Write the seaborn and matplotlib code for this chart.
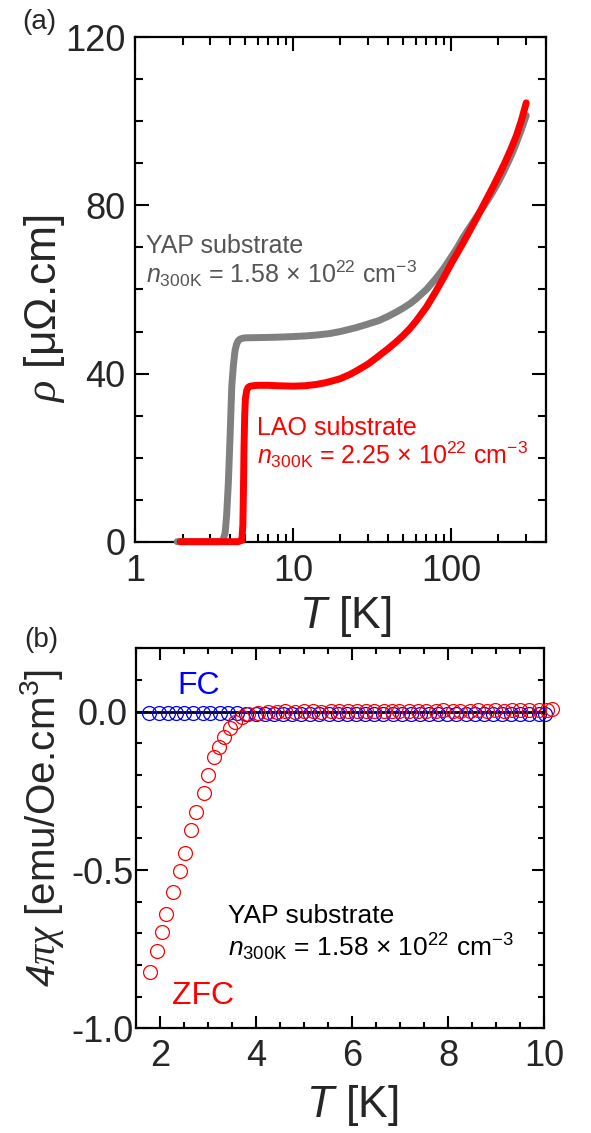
import matplotlib
matplotlib.use('Agg')
import matplotlib.pyplot as plt
import seaborn as sns
from matplotlib.ticker import FixedLocator, NullFormatter, MultipleLocator, FormatStrFormatter

# ---------------- data ----------------
# panel (a): resistivity vs temperature
yap_T = [1.85, 2.2, 2.6, 3.0, 3.4, 3.6, 3.72, 3.8, 3.9, 4.0, 4.1, 4.2, 4.3, 4.4, 4.5,
         4.63, 4.8, 5.0, 6, 7, 8, 10, 12, 14, 17, 20, 25, 30, 35, 40, 45, 50, 55, 60,
         70, 80, 90, 100, 110, 120, 130, 140, 150, 160, 170, 180, 190, 200, 215, 230,
         245, 260, 280, 300]
yap_rho = [0, 0, 0, 0, 0, 0.3, 2, 6, 14, 25, 37, 42, 45.5, 47.0, 47.8,
           48.2, 48.4, 48.5, 48.55, 48.6, 48.65, 48.8, 48.95, 49.15, 49.5, 50.0, 50.9,
           51.8, 52.6, 53.6, 54.6, 55.6, 56.6, 57.7, 60.0, 62.5, 65.0, 67.6, 70.0, 72.5,
           74.5, 76.3, 78.0, 79.6, 81.1, 82.6, 84.1, 85.6, 87.9, 90.2, 92.5, 94.9, 98.1,
           101.4]
lao_T = [1.93, 2.5, 3.0, 3.5, 4.0, 4.5, 4.75, 4.82, 4.86, 4.9, 4.95, 5.0, 5.1, 5.2,
         5.36, 5.6, 6, 7, 8, 9, 10, 12, 14, 16, 18, 20, 23, 26, 30, 35, 40, 45, 50, 55,
         60, 70, 80, 90, 100, 110, 120, 135, 150, 165, 180, 200, 220, 240, 260, 280, 300]
lao_rho = [0, 0, 0, 0, 0, 0, 0.3, 4, 12, 22, 30, 34, 36.0, 36.7,
           37.0, 37.1, 37.2, 37.2, 37.1, 37.05, 37.0, 37.1, 37.4, 37.8, 38.3, 38.8, 39.8,
           40.9, 42.3, 44.2, 45.9, 47.5, 49.1, 50.7, 52.4, 55.8, 59.4, 62.8, 66.0, 68.7,
           71.2, 74.7, 77.9, 80.9, 83.6, 87.0, 90.2, 93.4, 96.6, 100.3, 104.4]

# panel (b): susceptibility vs temperature
fc_T = [1.78, 1.98, 2.17, 2.33, 2.49, 2.69, 2.89, 3.05, 3.25, 3.41, 3.61, 3.80, 3.99,
        4.18, 4.37, 4.56, 4.75, 4.94, 5.13, 5.32, 5.51, 5.70, 5.89, 6.08, 6.27, 6.46,
        6.65, 6.84, 7.03, 7.22, 7.41, 7.60, 7.79, 7.98, 8.17, 8.36, 8.55, 8.74, 8.93,
        9.12, 9.31, 9.50, 9.69, 9.88, 10.02]
fc_chi = [-0.005, -0.005, -0.005, -0.005, -0.005, -0.005, -0.005, -0.005, -0.005,
          -0.005, -0.005, -0.006, -0.007, -0.008, -0.008, -0.008, -0.008, -0.008,
          -0.008, -0.008, -0.008, -0.008, -0.008, -0.008, -0.008, -0.008, -0.008,
          -0.008, -0.008, -0.008, -0.008, -0.008, -0.008, -0.008, -0.008, -0.008,
          -0.008, -0.008, -0.008, -0.008, -0.008, -0.008, -0.008, -0.008, -0.008]
zfc_T = [1.80, 1.94, 2.05, 2.12, 2.28, 2.41, 2.53, 2.65, 2.75, 2.91, 2.99, 3.13, 3.23,
         3.34, 3.45, 3.56, 3.71, 3.84, 4.04, 4.24, 4.44, 4.61, 4.80, 4.99, 5.19, 5.35,
         5.55, 5.73, 5.91, 6.11, 6.28, 6.46, 6.66, 6.82, 6.98, 7.18, 7.38, 7.54, 7.74,
         7.89, 8.09, 8.25, 8.45, 8.61, 8.81, 8.97, 9.17, 9.33, 9.49, 9.68, 9.88, 10.05,
         10.15]
zfc_chi = [-0.822, -0.755, -0.695, -0.639, -0.570, -0.504, -0.447, -0.374, -0.316,
           -0.258, -0.200, -0.142, -0.111, -0.079, -0.052, -0.032, -0.016, -0.007,
           -0.003, -0.001, 0.000, 0.001, 0.000, 0.002, 0.001, 0.000, 0.001, 0.002,
           0.001, 0.002, 0.003, 0.002, 0.001, 0.002, 0.003, 0.002, 0.003, 0.002,
           0.003, 0.004, 0.003, 0.002, 0.003, 0.004, 0.003, 0.004, 0.003, 0.004,
           0.005, 0.004, 0.005, 0.006, 0.008]

a_xticks = [1, 10, 100]
a_xticklabels = ['1', '10', '100']
a_yticks = [0, 40, 80, 120]
b_xticks = [2, 4, 6, 8, 10]
b_yticks = [-1.0, -0.5, 0.0]

# ---------------- style ----------------
sns.set_style('ticks')
plt.rcParams['font.family'] = ['Liberation Sans', 'DejaVu Sans']
plt.rcParams['mathtext.fontset'] = 'custom'
plt.rcParams['mathtext.rm'] = 'Liberation Sans'
plt.rcParams['mathtext.it'] = 'Liberation Sans:italic'
plt.rcParams['mathtext.sf'] = 'Liberation Sans:italic'
plt.rcParams['mathtext.cal'] = 'Liberation Serif:italic'
plt.rcParams['mathtext.bf'] = 'Liberation Sans:bold'
plt.rcParams['axes.unicode_minus'] = False

fig = plt.figure(figsize=(5.91, 11.33), dpi=100)
axa = fig.add_axes([0.2284, 0.5219, 0.6954, 0.4452])
axb = fig.add_axes([0.2301, 0.0924, 0.6909, 0.3353])

# ---------------- panel (a) ----------------
axa.set_xscale('log')
sns.lineplot(x=yap_T, y=yap_rho, ax=axa, color='#808080', lw=5.0, sort=False,
             estimator=None, clip_on=False, solid_capstyle='round',
             solid_joinstyle='round', zorder=3)
sns.lineplot(x=lao_T, y=lao_rho, ax=axa, color='#ff0000', lw=5.0, sort=False,
             estimator=None, clip_on=False, solid_capstyle='round',
             solid_joinstyle='round', zorder=4)
axa.set_xlim(1, 400)
axa.set_ylim(0, 120)
axa.xaxis.set_major_locator(FixedLocator(a_xticks))
axa.set_xticklabels(a_xticklabels)
axa.xaxis.set_minor_locator(FixedLocator(
    [m * 10 ** e for e in range(0, 3) for m in range(2, 10) if m * 10 ** e <= 400]))
axa.xaxis.set_minor_formatter(NullFormatter())
axa.set_yticks(a_yticks)
axa.yaxis.set_minor_locator(MultipleLocator(10))

axa.text(1.167, 68.6, 'YAP substrate', color='#555555', fontsize=18, va='baseline')
axa.text(1.167, 61.5, r'$n_{\mathrm{300K}}$ = 1.58 × 10$^{22}$ cm$^{-3}$',
         color='#555555', fontsize=18, va='baseline')
axa.text(5.96, 25.4, 'LAO substrate', color='#ff0000', fontsize=18, va='baseline')
axa.text(5.96, 18.5, r'$n_{\mathrm{300K}}$ = 2.25 × 10$^{22}$ cm$^{-3}$',
         color='#ff0000', fontsize=18, va='baseline')

axa.set_xlabel(r'$T$ [K]', fontsize=32)
axa.set_ylabel(r'$\mathcal{\rho}$ [μΩ.cm]', fontsize=32, va='center')
axa.xaxis.set_label_coords(0.513, -0.149)
axa.xaxis.label.set_va('center')
axa.yaxis.set_label_coords(-0.219, 0.463)

# ---------------- panel (b) ----------------
axb.axhline(0, color='black', lw=2.0, zorder=1)
sns.lineplot(x=fc_T, y=fc_chi, ax=axb, color='#0000ff', marker='o', linestyle='',
             markersize=10, markerfacecolor='none', markeredgecolor='#0000ff',
             markeredgewidth=0.9, sort=False, estimator=None, clip_on=False, zorder=3)
sns.lineplot(x=zfc_T, y=zfc_chi, ax=axb, color='#ff0000', marker='o', linestyle='',
             markersize=10, markerfacecolor='none', markeredgecolor='#ff0000',
             markeredgewidth=0.9, sort=False, estimator=None, clip_on=False, zorder=4)
axb.set_xlim(1.5, 10)
axb.set_ylim(-1.0, 0.2)
axb.set_xticks(b_xticks)
axb.xaxis.set_minor_locator(MultipleLocator(0.5))
axb.set_yticks(b_yticks)
axb.yaxis.set_major_formatter(FormatStrFormatter('%.1f'))
axb.yaxis.set_minor_locator(MultipleLocator(0.1))

axb.text(2.37, 0.056, 'FC', color='#0000ff', fontsize=23, va='baseline')
axb.text(2.25, -0.923, 'ZFC', color='#ff0000', fontsize=23, va='baseline')
axb.text(3.41, -0.666, 'YAP substrate', color='black', fontsize=19, va='baseline')
axb.text(3.41, -0.774, r'$n_{\mathrm{300K}}$ = 1.58 × 10$^{22}$ cm$^{-3}$',
         color='black', fontsize=19, va='baseline')

axb.set_xlabel(r'$T$ [K]', fontsize=32)
axb.set_ylabel(r'$\mathsf{4}\mathcal{\pi\chi}$ [emu/Oe.cm$^3$]', fontsize=29, va='center')
axb.xaxis.set_label_coords(0.529, -0.202)
axb.xaxis.label.set_va('center')
axb.yaxis.set_label_coords(-0.231, 0.527)

# ---------------- common axes styling ----------------
for ax, (maj, mnr, xpad) in ((axa, (10, 5.5, 9)), (axb, (8.5, 4.5, 8))):
    for s in ax.spines.values():
        s.set_linewidth(1.6)
        s.set_color('black')
        s.set_visible(True)
    ax.tick_params(which='both', direction='in', top=True, right=True,
                   width=1.5, color='black')
    ax.tick_params(which='major', length=maj, labelsize=26)
    ax.tick_params(which='minor', length=mnr)
    ax.tick_params(axis='x', which='major', pad=xpad)
    ax.grid(False)

axa.tick_params(axis='y', which='major', pad=7)
axb.tick_params(axis='y', which='major', pad=24)
for lab in axb.get_yticklabels():
    lab.set_ha('center')

fig.text(22.7 / 591, 1 - 21.7 / 1133, '(a)', fontsize=20, va='center', ha='left')
fig.text(24.6 / 591, 1 - 640 / 1133, '(b)', fontsize=20, va='center', ha='left')

fig.savefig('out.png', dpi=100)
